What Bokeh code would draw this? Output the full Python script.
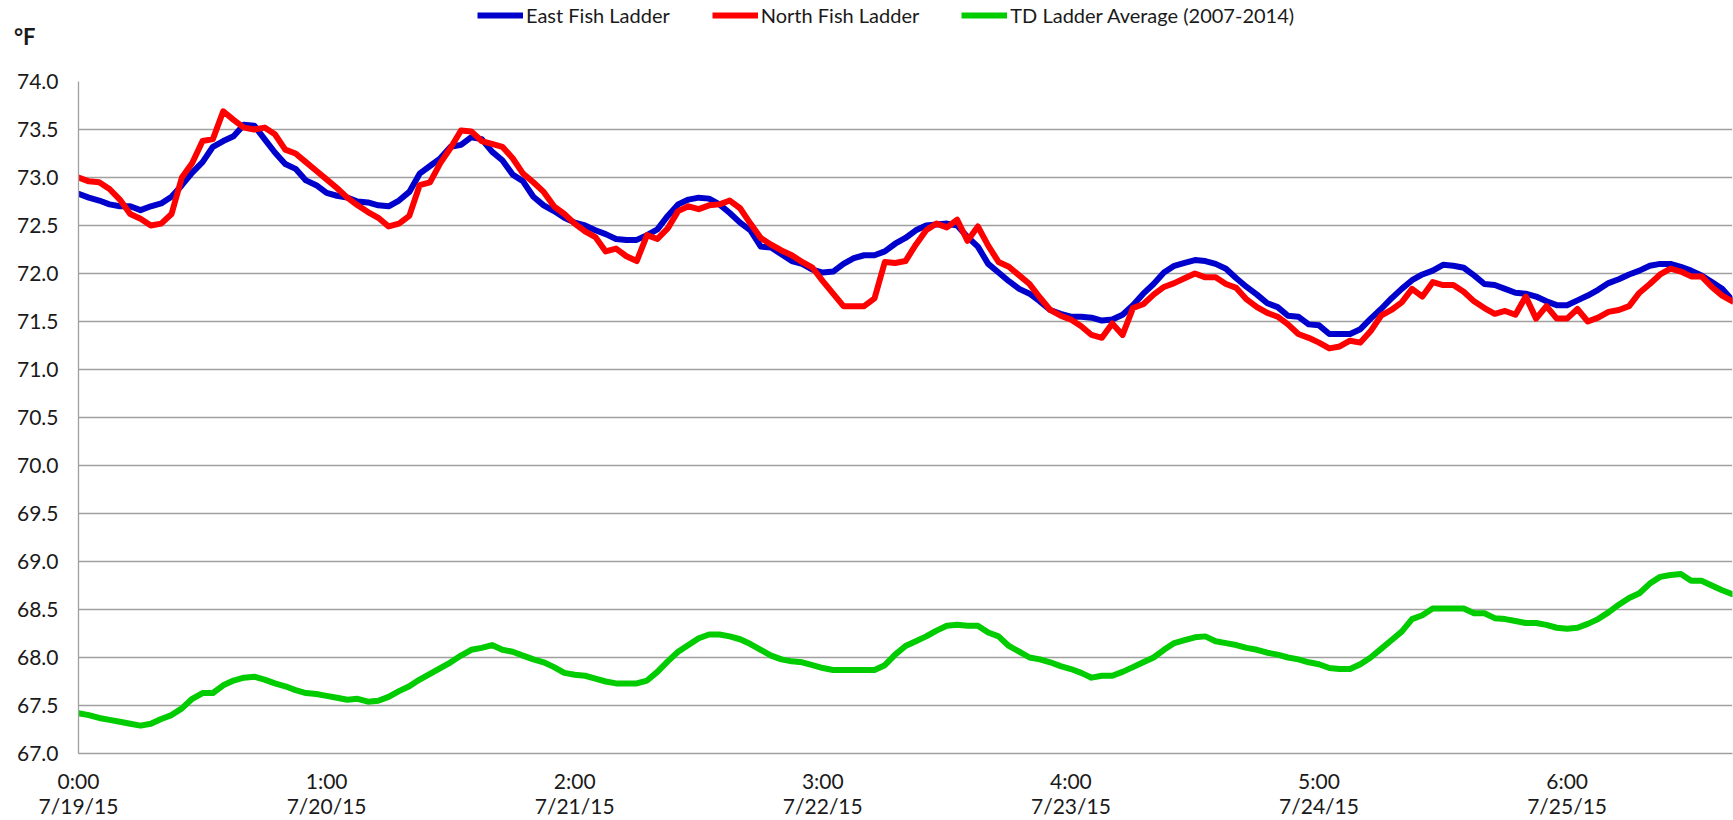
from bokeh.plotting import figure
from bokeh.layouts import column
from bokeh.models import (Range1d, SingleIntervalTicker, FixedTicker, NumeralTickFormatter,
                          Legend, LegendItem)
from bokeh.embed import file_html
from bokeh.resources import INLINE

# hourly readings starting 7/19/15 0:00 (degrees F)
east = [
    72.83, 72.79, 72.76, 72.72, 72.70, 72.70, 72.66, 72.70, 72.73, 72.80, 72.92, 73.05, 73.16, 73.32, 73.38, 73.43, 73.55, 73.54, 73.40, 73.26, 73.14, 73.09, 72.97, 72.92,
    72.84, 72.81, 72.79, 72.75, 72.74, 72.71, 72.70, 72.76, 72.85, 73.04, 73.12, 73.20, 73.32, 73.34, 73.42, 73.40, 73.27, 73.18, 73.03, 72.96, 72.80, 72.71, 72.65, 72.58,
    72.53, 72.50, 72.45, 72.41, 72.36, 72.35, 72.35, 72.40, 72.46, 72.60, 72.72, 72.77, 72.79, 72.78, 72.72, 72.63, 72.53, 72.45, 72.28, 72.27, 72.20, 72.13, 72.10, 72.04,
    72.01, 72.02, 72.10, 72.16, 72.19, 72.19, 72.23, 72.31, 72.37, 72.45, 72.50, 72.51, 72.52, 72.50, 72.38, 72.28, 72.10, 72.01, 71.92, 71.84, 71.79, 71.71, 71.62, 71.58,
    71.55, 71.55, 71.54, 71.51, 71.52, 71.57, 71.67, 71.79, 71.89, 72.01, 72.08, 72.11, 72.14, 72.13, 72.10, 72.05, 71.95, 71.86, 71.78, 71.69, 71.65, 71.56, 71.55, 71.47,
    71.46, 71.37, 71.37, 71.37, 71.42, 71.53, 71.63, 71.74, 71.84, 71.93, 71.99, 72.03, 72.09, 72.08, 72.06, 71.98, 71.89, 71.88, 71.84, 71.80, 71.79, 71.76, 71.71, 71.67,
    71.67, 71.72, 71.77, 71.83, 71.90, 71.94, 71.99, 72.03, 72.08, 72.10, 72.10, 72.07, 72.03, 71.98, 71.91, 71.84, 71.72,
]
north = [
    73.00, 72.96, 72.95, 72.88, 72.77, 72.62, 72.57, 72.50, 72.52, 72.62, 73.00, 73.15, 73.38, 73.40, 73.69, 73.60, 73.52, 73.50, 73.52, 73.45, 73.29, 73.25, 73.16, 73.07,
    72.98, 72.89, 72.79, 72.71, 72.64, 72.58, 72.49, 72.52, 72.60, 72.92, 72.95, 73.15, 73.31, 73.49, 73.48, 73.38, 73.35, 73.32, 73.20, 73.04, 72.95, 72.85, 72.70, 72.62,
    72.52, 72.44, 72.38, 72.23, 72.26, 72.18, 72.13, 72.40, 72.36, 72.47, 72.65, 72.70, 72.67, 72.71, 72.72, 72.76, 72.68, 72.52, 72.37, 72.30, 72.24, 72.19, 72.12, 72.06,
    71.92, 71.79, 71.66, 71.66, 71.66, 71.74, 72.12, 72.11, 72.13, 72.30, 72.45, 72.52, 72.48, 72.56, 72.34, 72.49, 72.29, 72.12, 72.07, 71.98, 71.89, 71.75, 71.62, 71.56,
    71.52, 71.45, 71.36, 71.33, 71.48, 71.36, 71.64, 71.68, 71.78, 71.86, 71.90, 71.95, 72.00, 71.96, 71.96, 71.89, 71.85, 71.73, 71.65, 71.59, 71.55, 71.47, 71.37, 71.33,
    71.28, 71.22, 71.24, 71.30, 71.28, 71.40, 71.56, 71.62, 71.70, 71.84, 71.76, 71.91, 71.88, 71.88, 71.81, 71.71, 71.64, 71.58, 71.61, 71.57, 71.76, 71.53, 71.66, 71.53,
    71.53, 71.63, 71.50, 71.54, 71.60, 71.62, 71.66, 71.80, 71.89, 71.99, 72.05, 72.02, 71.97, 71.97, 71.86, 71.77, 71.71,
]
td_average = [
    67.42, 67.40, 67.37, 67.35, 67.33, 67.31, 67.29, 67.31, 67.36, 67.40, 67.47, 67.57, 67.63, 67.63, 67.71, 67.76, 67.79, 67.80, 67.77, 67.73, 67.70, 67.66, 67.63, 67.62,
    67.60, 67.58, 67.56, 67.57, 67.54, 67.55, 67.59, 67.65, 67.70, 67.77, 67.83, 67.89, 67.95, 68.02, 68.08, 68.10, 68.13, 68.08, 68.06, 68.02, 67.98, 67.95, 67.90, 67.84,
    67.82, 67.81, 67.78, 67.75, 67.73, 67.73, 67.73, 67.76, 67.85, 67.96, 68.06, 68.13, 68.20, 68.24, 68.24, 68.22, 68.19, 68.14, 68.08, 68.02, 67.98, 67.96, 67.95, 67.92,
    67.89, 67.87, 67.87, 67.87, 67.87, 67.87, 67.92, 68.03, 68.12, 68.17, 68.22, 68.28, 68.33, 68.34, 68.33, 68.33, 68.26, 68.22, 68.12, 68.06, 68.00, 67.98, 67.95, 67.91,
    67.88, 67.84, 67.79, 67.81, 67.81, 67.85, 67.90, 67.95, 68.00, 68.08, 68.15, 68.18, 68.21, 68.22, 68.17, 68.15, 68.13, 68.10, 68.08, 68.05, 68.03, 68.00, 67.98, 67.95,
    67.93, 67.89, 67.88, 67.88, 67.93, 68.00, 68.09, 68.18, 68.27, 68.40, 68.44, 68.51, 68.51, 68.51, 68.51, 68.46, 68.46, 68.41, 68.40, 68.38, 68.36, 68.36, 68.34, 68.31,
    68.30, 68.31, 68.35, 68.40, 68.47, 68.55, 68.62, 68.67, 68.77, 68.84, 68.86, 68.87, 68.80, 68.80, 68.75, 68.70, 68.66,
]
hours = list(range(len(east)))

tick_hours = [0, 24, 48, 72, 96, 120, 144]
tick_times = ["0:00", "1:00", "2:00", "3:00", "4:00", "5:00", "6:00"]
tick_dates = ["7/19/15", "7/20/15", "7/21/15", "7/22/15", "7/23/15", "7/24/15", "7/25/15"]
series_names = ["East Fish Ladder", "North Fish Ladder", "TD Ladder Average (2007-2014)"]
series_colors = ["#0000CC", "#FF0000", "#00CC00"]
unit_text = "°F"

FONT = "Lato"
GRID = "#A0A0A0"
TXT = "#1a1a1a"
LW = 6
LEFT = 78

# ---- header strip: legend and unit label (pixel-unit ranges) ----
HEAD_H = 67
head = figure(width=1733, height=HEAD_H, x_range=Range1d(0, 1733 - LEFT - 1), y_range=Range1d(0, HEAD_H),
              x_axis_type=None, output_backend="svg", toolbar_location=None,
              min_border_left=LEFT, min_border_right=1, min_border_top=0, min_border_bottom=0)
head.outline_line_color = None
head.grid.visible = False
# unit label drawn as the single tick label of an invisible left axis
head.yaxis.ticker = FixedTicker(ticks=[HEAD_H - 36])
head.yaxis.major_label_overrides = {HEAD_H - 36: unit_text}
head.yaxis.major_label_text_font = FONT
head.yaxis.major_label_text_font_size = "22px"
head.yaxis.major_label_text_font_style = "bold"
head.yaxis.major_label_text_color = TXT
head.yaxis.major_label_standoff = 37
head.yaxis.axis_line_color = None
head.yaxis.major_tick_line_color = None
head.yaxis.minor_tick_line_color = None
# legend-only line renderers (their points lie outside the header's visible range)
legend_glyphs = [head.line(x=[-10, -5], y=[-10, -5], line_color=c, line_width=LW) for c in series_colors]
legend = Legend(items=[LegendItem(label=n, renderers=[r]) for n, r in zip(series_names, legend_glyphs)],
                orientation="horizontal", location=(477 - LEFT, HEAD_H - 27))
legend.label_text_font = FONT
legend.label_text_font_size = "20px"
legend.label_text_color = TXT
legend.glyph_width = 46
legend.glyph_height = 20
legend.label_height = 20
legend.label_standoff = 3
legend.spacing = 42
legend.padding = 0
legend.margin = 0
legend.border_line_color = None
legend.background_fill_alpha = 0
head.add_layout(legend, "center")

# ---- main chart ----
p = figure(width=1733, height=820 - HEAD_H, x_range=Range1d(0, 160), y_range=Range1d(67, 74),
           output_backend="svg", toolbar_location=None,
           min_border_left=LEFT, min_border_right=1, min_border_top=81 - HEAD_H, min_border_bottom=65)
p.outline_line_color = None

p.yaxis.ticker = SingleIntervalTicker(interval=0.5)
p.yaxis.formatter = NumeralTickFormatter(format="0.0")
p.yaxis.major_label_text_font = FONT
p.yaxis.major_label_text_font_size = "21px"
p.yaxis.major_label_text_color = TXT
p.yaxis.major_label_standoff = 14
p.yaxis.axis_line_color = GRID
p.yaxis.axis_line_width = 1.3
p.yaxis.major_tick_line_color = None
p.yaxis.minor_tick_line_color = None
p.ygrid.grid_line_color = GRID
p.ygrid.grid_line_width = 1.3
p.xgrid.grid_line_color = None

p.xaxis.ticker = FixedTicker(ticks=tick_hours)
p.xaxis.major_label_overrides = {h: f"{t}\n{d}" for h, t, d in zip(tick_hours, tick_times, tick_dates)}
p.xaxis.major_label_text_font = FONT
p.xaxis.major_label_text_font_size = "21px"
p.xaxis.major_label_text_line_height = 1.0
p.xaxis.major_label_text_color = TXT
p.xaxis.major_label_standoff = 8
p.xaxis.axis_line_color = GRID
p.xaxis.axis_line_width = 1.3
p.xaxis.major_tick_line_color = None
p.xaxis.minor_tick_line_color = None

# green at the bottom, then blue, red on top
for ys, c in [(td_average, series_colors[2]), (east, series_colors[0]), (north, series_colors[1])]:
    p.line(hours, ys, line_color=c, line_width=LW, line_join="round", line_cap="round")

layout = column(head, p, spacing=0)
open("out.html", "w").write(file_html(layout, INLINE))
